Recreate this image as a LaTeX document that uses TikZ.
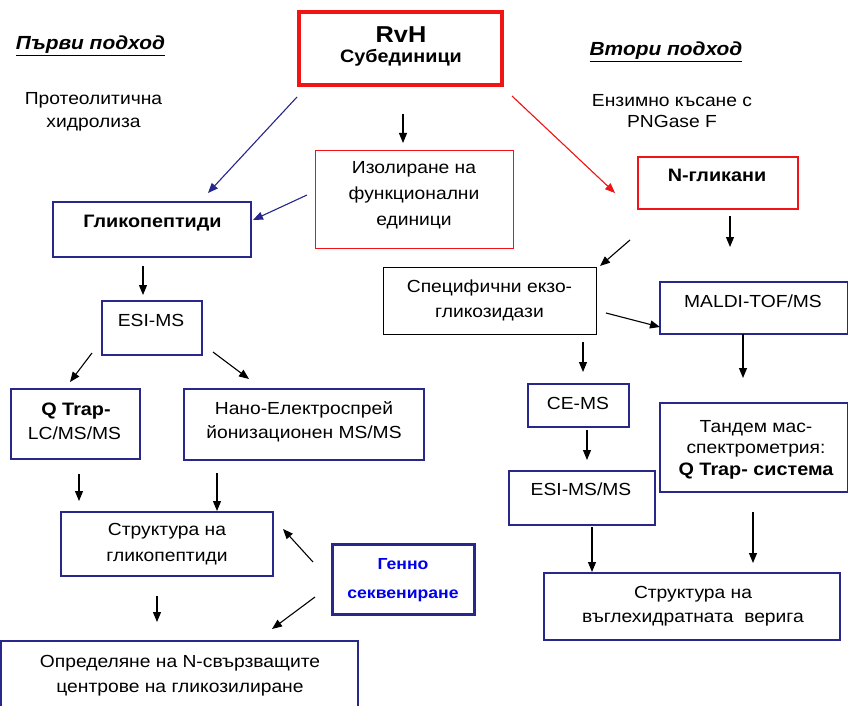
\documentclass[tikz,border=0pt]{standalone}
\usepackage{fontspec}
\setmainfont{Liberation Sans}[FakeStretch=1.1]
\usetikzlibrary{arrows.meta}
\definecolor{navy}{RGB}{40,40,140}
\definecolor{rred}{RGB}{240,20,20}
\definecolor{gblue}{RGB}{0,0,235}
\begin{document}
\begin{tikzpicture}[x=1pt,y=-1pt,
  every node/.style={inner sep=0pt, outer sep=0pt, align=center},
  txt/.style={anchor=base, font=\fontsize{17.5}{26}\selectfont},
  btxt/.style={anchor=base, font=\bfseries\fontsize{18}{26}\selectfont},
  nbox/.style={draw=navy, line width=1.3pt, rectangle},
  arr/.style={-{Triangle[length=10pt,width=8pt]}, line width=1.1pt},
  narr/.style={arr, draw=navy, fill=navy},
  rarr/.style={arr, draw=rred, fill=rred}]
\useasboundingbox (0,0) rectangle (848,706);
\clip (0,0) rectangle (848,706);

% ---- boxes ----
\node[draw=rred, line width=3.5pt, minimum width=203pt, minimum height=73pt] (rvh) at (400.5,48.5) {};
\node[draw=rred, line width=1pt, minimum width=198pt, minimum height=98pt] (izo) at (414,199) {};
\node[nbox, line width=2pt, minimum width=198pt, minimum height=55pt] (glp) at (152,229.5) {};
\node[draw=rred, line width=2.8pt, minimum width=160pt, minimum height=52pt] (ngl) at (718,183) {};
\node[draw=black, line width=1pt, minimum width=213pt, minimum height=67pt] (spec) at (489.5,300.5) {};
\node[nbox, minimum width=188pt, minimum height=52pt] (maldi) at (754,308) {};
\node[nbox, minimum width=100pt, minimum height=54pt] (esi) at (152,328) {};
\node[nbox, minimum width=129pt, minimum height=70pt] (qtrap) at (75.5,424) {};
\node[nbox, minimum width=240pt, minimum height=71pt] (nano) at (304,424.5) {};
\node[nbox, minimum width=101pt, minimum height=43pt] (cems) at (578.5,405.5) {};
\node[nbox, minimum width=146pt, minimum height=54pt] (esims) at (582,498) {};
\node[nbox, minimum width=188pt, minimum height=89pt] (tandem) at (754,447.5) {};
\node[nbox, minimum width=212pt, minimum height=64pt] (strg) at (167,544) {};
\node[nbox, line width=3pt, minimum width=142pt, minimum height=70pt] (genno) at (403,579) {};
\node[nbox, minimum width=357pt, minimum height=74pt] (opr) at (179.5,678) {};
\node[nbox, minimum width=296pt, minimum height=67pt] (strv) at (692,606.5) {};

% ---- texts (anchor = baseline of the last line) ----
\node[anchor=base, font=\bfseries\itshape\fontsize{19}{20}\selectfont] (h1) at (90.5,50) {\underline{Първи подход}};
\node[anchor=base, font=\bfseries\itshape\fontsize{19}{20}\selectfont] (h2) at (666,56) {\underline{Втори подход}};
\node[txt, font=\fontsize{17.5}{23}\selectfont] (t1) at (93.5,128) {Протеолитична\\хидролиза};
\node[txt, font=\fontsize{17.5}{21}\selectfont] (t2) at (672,128) {Ензимно късане с\\PNGase F};

\node[anchor=base, font=\bfseries\fontsize{23}{26}\selectfont] (trvh) at (401,43) {RvH};
\node[btxt] (tsub) at (401,63) {Субединици};
\node[txt] (tizo) at (414,225) {Изолиране на\\функционални\\единици};
\node[btxt] (tglp) at (152.5,227) {Гликопептиди};
\node[btxt] (tngl) at (717,181) {N-гликани};
\node[txt, font=\fontsize{17.5}{25}\selectfont] (tspec) at (489.5,317) {Специфични екзо-\\гликозидази};
\node[txt] (tmaldi) at (753,307) {MALDI-TOF/MS};
\node[txt] (tesi) at (151,326) {ESI-MS};
\node[btxt] (tq1) at (76,415) {Q Trap-};
\node[txt] (tq2) at (74.5,439) {LC/MS/MS};
\node[txt, font=\fontsize{17.5}{24}\selectfont] (tnano) at (304,438) {Нано-Електроспрей\\йонизационен MS/MS};
\node[txt] (tce) at (578,409) {CE-MS};
\node[txt] (tesims) at (581,495) {ESI-MS/MS};
\node[txt, font=\fontsize{17.5}{21}\selectfont] (ttan) at (756,453) {Тандем мас-\\спектрометрия:};
\node[btxt] (ttan2) at (756,475) {Q Trap- система};
\node[txt] (tstrg) at (167,561) {Структура на\\гликопептиди};
\node[txt, font=\bfseries\fontsize{16}{29}\selectfont, text=gblue] (tgen) at (403,598) {Генно\\секвениране};
\node[txt, font=\fontsize{17.5}{25}\selectfont] (topr) at (180,692) {Определяне на N-свързващите\\центрове на гликозилиране};
\node[txt, font=\fontsize{17.5}{24}\selectfont] (tstrv) at (693,622) {Структура на\\въглехидратната~~верига};

% ---- arrow end coordinates ----
\coordinate (a1s) at (297,97);  \coordinate (a1e) at (208,193);
\coordinate (a2s) at (307,195); \coordinate (a2e) at (253,220);
\coordinate (a3s) at (403,114); \coordinate (a3e) at (403,143);
\coordinate (a4s) at (512,96);  \coordinate (a4e) at (615,193);
\coordinate (a5s) at (730,216); \coordinate (a5e) at (730,247);
\coordinate (a6s) at (630,240); \coordinate (a6e) at (600,266);
\coordinate (a7s) at (606,313); \coordinate (a7e) at (660,327);
\coordinate (a8s) at (743,334); \coordinate (a8e) at (743,378);
\coordinate (a9s) at (583,342); \coordinate (a9e) at (583,372);
\coordinate (b1s) at (587,430); \coordinate (b1e) at (587,460);
\coordinate (b2s) at (592,527); \coordinate (b2e) at (592,572);
\coordinate (b3s) at (753,512); \coordinate (b3e) at (753,563);
\coordinate (b4s) at (143,266); \coordinate (b4e) at (143,295);
\coordinate (b5s) at (92,353);  \coordinate (b5e) at (70,382);
\coordinate (b6s) at (213,352); \coordinate (b6e) at (249,379);
\coordinate (b7s) at (79,474);  \coordinate (b7e) at (79,501);
\coordinate (b8s) at (217,473); \coordinate (b8e) at (217,511);
\coordinate (b9s) at (313,562); \coordinate (b9e) at (283,529);
\coordinate (c1s) at (315,597); \coordinate (c1e) at (272,629);
\coordinate (c2s) at (157,596); \coordinate (c2e) at (157,622);

% ---- arrows ----
\draw[narr] (a1s) -- (a1e);
\draw[narr] (a2s) -- (a2e);
\draw[arr] (a3s) -- (a3e);
\draw[rarr] (a4s) -- (a4e);
\foreach \p in {a5,a6,a7,a8,a9,b1,b2,b3,b4,b5,b6,b7,b8,b9,c1,c2}
  \draw[arr] (\p s) -- (\p e);
\end{tikzpicture}
\end{document}
